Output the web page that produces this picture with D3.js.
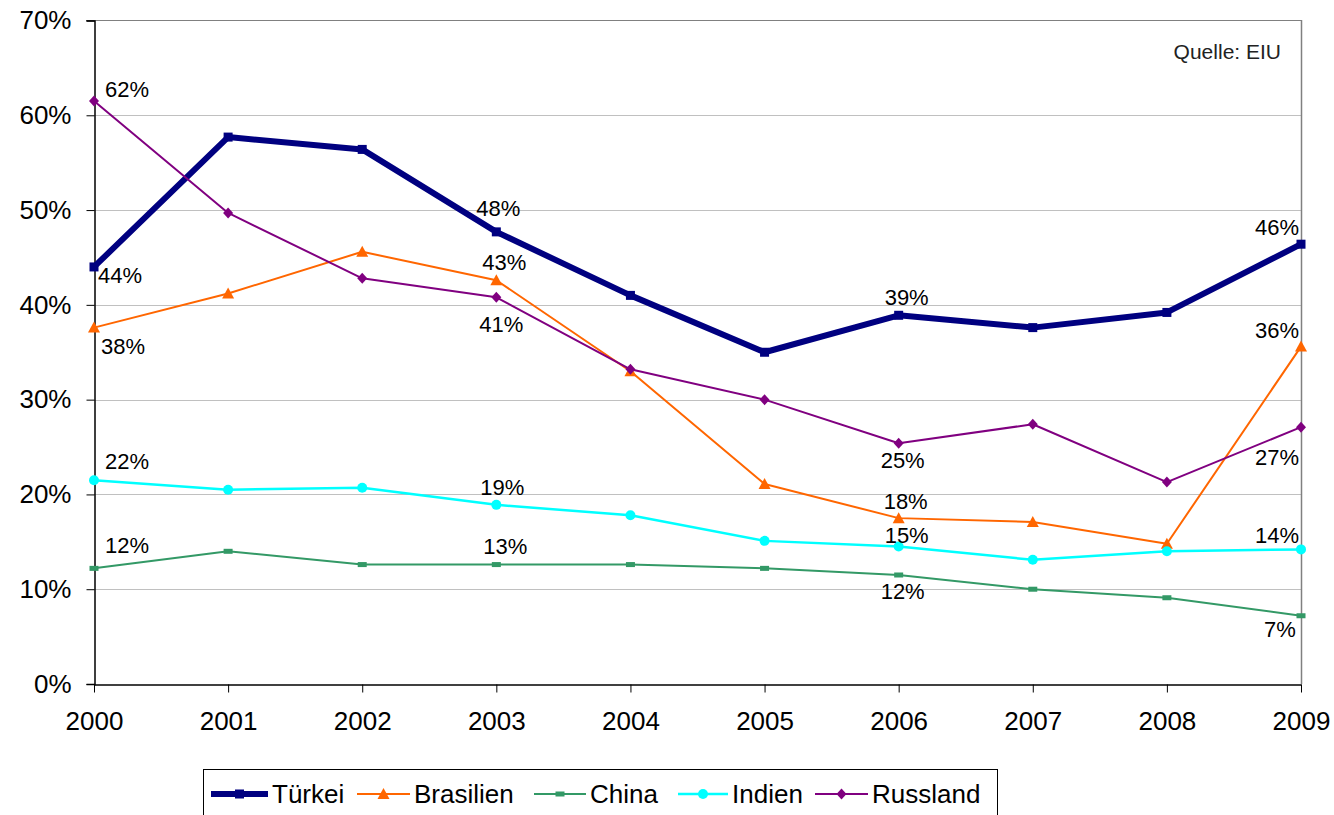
<!DOCTYPE html>
<html><head><meta charset="utf-8">
<script src="https://cdn.jsdelivr.net/npm/d3@7"></script>
<style>body{margin:0;background:#fff;}svg{display:block;font-family:"Liberation Sans",Arial,sans-serif;}</style>
</head><body><svg id="c" width="1334" height="815"></svg>
<script>
const years = [2000,2001,2002,2003,2004,2005,2006,2007,2008,2009];
const yTicks = [0,10,20,30,40,50,60,70];
const seriesNames = ["Türkei","Brasilien","China","Indien","Russland"];
const tuerkei   = [44.0,57.7,56.4,47.7,41.0,35.0,38.9,37.6,39.2,46.4];
const brasilien = [37.6,41.2,45.6,42.6,33.0,21.1,17.5,17.1,14.8,35.6];
const china     = [12.2,14.0,12.6,12.6,12.6,12.2,11.5,10.0,9.1,7.2];
const indien    = [21.5,20.5,20.7,18.9,17.8,15.1,14.5,13.1,14.0,14.2];
const russland  = [61.5,49.7,42.8,40.8,33.2,30.0,25.4,27.4,21.3,27.1];
const labelledYears = [2000,2003,2006,2009];

const styles = {
  "Türkei":   {color:"#000080", width:6,   marker:"square"},
  "Brasilien":{color:"#FF6600", width:2,   marker:"triangle"},
  "China":    {color:"#339966", width:2,   marker:"dash"},
  "Indien":   {color:"#00FFFF", width:2.5, marker:"circle"},
  "Russland": {color:"#800080", width:2,   marker:"diamond"}
};
// label offsets (dx, dy) relative to the point, per series, per labelled year
const labelOffsets = {
  "Türkei":   [[26,9],[2,-23],[8,-18],[-24,-17]],
  "Brasilien":[[29,19],[8,-18],[7,-17],[-24,-16]],
  "China":    [[33,-23],[9,-18],[4,17],[-21,14]],
  "Indien":   [[33,-19],[6,-17],[8,-11],[-24,-14]],
  "Russland": [[33,-12],[5,27],[4,17],[-24,30]]
};
const data = {"Türkei":tuerkei,"Brasilien":brasilien,"China":china,"Indien":indien,"Russland":russland};

const svg = d3.select("#c");
const x = d3.scalePoint().domain(years).range([94,1301]);
const y = d3.scaleLinear().domain([0,70]).range([684,20.5]);

// gridlines
svg.append("g").selectAll("line").data(yTicks.filter(t=>t>0 && t<70)).join("line")
  .attr("x1",94).attr("x2",1301).attr("y1",d=>Math.round(y(d))+0.5).attr("y2",d=>Math.round(y(d))+0.5)
  .attr("stroke","#c0c0c0").attr("stroke-width",1);
// top and right border
svg.append("line").attr("x1",86).attr("x2",1301).attr("y1",20.5).attr("y2",20.5).attr("stroke","#808080");
svg.append("line").attr("x1",1301.5).attr("x2",1301.5).attr("y1",20).attr("y2",684).attr("stroke","#808080").attr("stroke-width",1.5);

// y axis
const yAxis = d3.axisLeft(y).tickValues(yTicks).tickFormat(d=>d+"%").tickSize(8).tickPadding(15);
const gy = svg.append("g").attr("transform","translate(94.5,0)").call(yAxis);
gy.select(".domain").attr("stroke","#000").attr("stroke-width",1.5);
gy.selectAll(".tick line").attr("stroke","#000");
gy.selectAll(".tick text").attr("font-size",26).attr("fill","#000").attr("font-family","Liberation Sans, Arial, sans-serif");

// x axis
const xAxis = d3.axisBottom(x).tickSize(8).tickPadding(19).tickSizeOuter(0);
const gx = svg.append("g").attr("transform","translate(0,684.5)").call(xAxis);
gx.select(".domain").attr("stroke","#000").attr("stroke-width",1.5);
gx.selectAll(".tick line").attr("stroke","#000");
gx.selectAll(".tick text").attr("font-size",26).attr("fill","#000").attr("font-family","Liberation Sans, Arial, sans-serif");

function drawMarker(g, type, color, cx, cy){
  if(type==="square") g.append("rect").attr("x",cx-4.5).attr("y",cy-4.5).attr("width",9).attr("height",9).attr("fill",color);
  else if(type==="triangle") g.append("path").attr("d",`M${cx},${cy-6}L${cx+6},${cy+5}L${cx-6},${cy+5}Z`).attr("fill",color);
  else if(type==="dash") g.append("rect").attr("x",cx-4.5).attr("y",cy-2.5).attr("width",9).attr("height",5).attr("fill",color);
  else if(type==="circle") g.append("circle").attr("cx",cx).attr("cy",cy).attr("r",5).attr("fill",color);
  else if(type==="diamond") g.append("path").attr("d",`M${cx},${cy-5.5}L${cx+5},${cy}L${cx},${cy+5.5}L${cx-5},${cy}Z`).attr("fill",color);
}

const line = d3.line().x((d,i)=>x(years[i])).y(d=>y(d));
seriesNames.forEach(name=>{
  const s = styles[name], vals = data[name];
  const g = svg.append("g");
  g.append("path").attr("d",line(vals)).attr("fill","none").attr("stroke",s.color)
    .attr("stroke-width",s.width).attr("stroke-linejoin","round");
  vals.forEach((v,i)=>drawMarker(g,s.marker,s.color,x(years[i]),y(v)));
});
// data labels
seriesNames.forEach(name=>{
  const vals = data[name];
  labelledYears.forEach((yr,k)=>{
    const i = years.indexOf(yr);
    const [dx,dy] = labelOffsets[name][k];
    svg.append("text").attr("x",x(yr)+dx).attr("y",y(vals[i])+dy)
      .attr("text-anchor","middle").attr("dominant-baseline","central")
      .attr("font-size",22).attr("fill","#000").text(Math.round(vals[i])+"%");
  });
});

// source
svg.append("text").attr("x",1281).attr("y",51).attr("text-anchor","end").attr("dominant-baseline","central")
  .attr("font-size",21).attr("fill","#222").text("Quelle: EIU");

// legend
const lg = svg.append("g");
lg.append("rect").attr("x",203.5).attr("y",769.5).attr("width",794).attr("height",60)
  .attr("fill","#fff").attr("stroke","#000").attr("stroke-width",1);
const legX = [211,357,534,678,815];
const sampleW = [57,53,52,50,53];
seriesNames.forEach((name,i)=>{
  const s = styles[name];
  const ly = 794;
  lg.append("line").attr("x1",legX[i]).attr("x2",legX[i]+sampleW[i]).attr("y1",ly).attr("y2",ly)
    .attr("stroke",s.color).attr("stroke-width",s.width);
  drawMarker(lg,s.marker,s.color,legX[i]+sampleW[i]/2,ly);
  lg.append("text").attr("x",legX[i]+sampleW[i]+4).attr("y",ly).attr("dominant-baseline","central")
    .attr("font-size",26).attr("fill","#000").text(name);
});
</script></body></html>
